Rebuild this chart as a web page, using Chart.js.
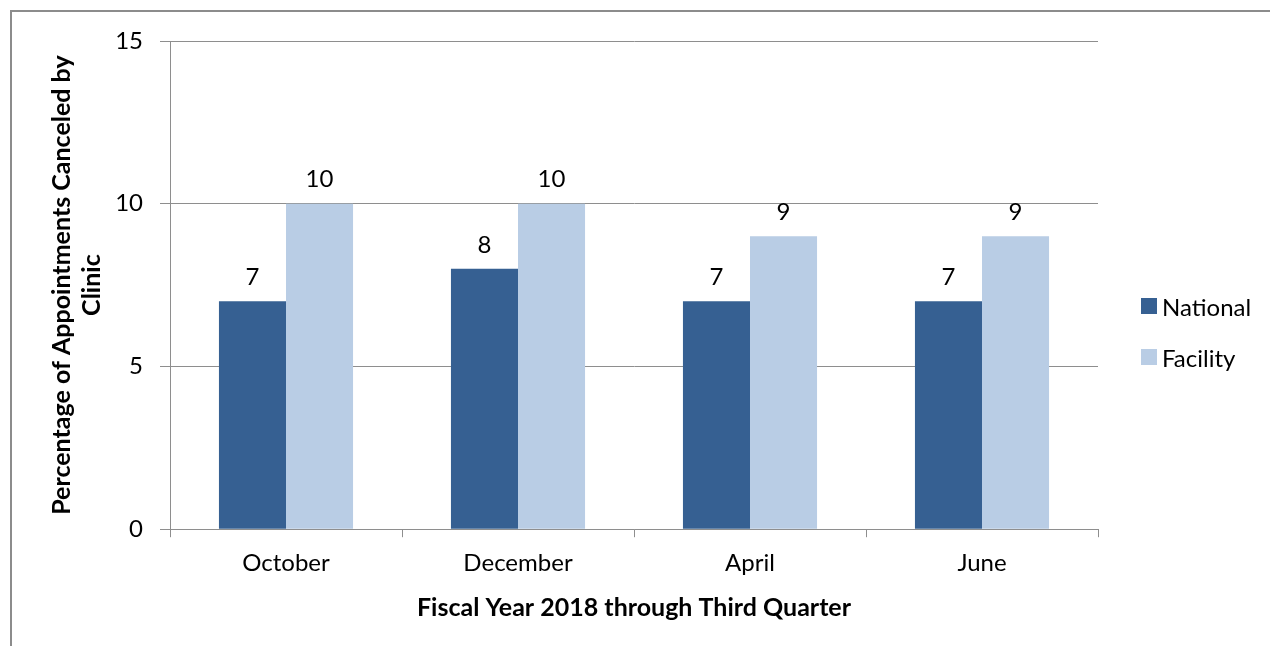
<!DOCTYPE html>
<html>
<head>
<meta charset="utf-8">
<script src="https://cdn.jsdelivr.net/npm/chart.js@4"></script>
<style>
  html, body { margin: 0; padding: 0; background: #fff; }
  #wrap { position: relative; width: 1270px; height: 646px; overflow: hidden; }
  #frame {
    position: absolute; left: 10px; top: 10px; width: 1300px; height: 700px;
    border-top: 2px solid #8c8c8c; border-left: 2px solid #8c8c8c;
    pointer-events: none;
  }
  #legend { position: absolute; left: 1141px; top: 292px; font-family: Lato, "Open Sans", sans-serif; font-size: 24px; }
  .item { display: flex; align-items: center; height: 28px; margin-bottom: 23px; }
  .box { width: 16px; height: 16px; margin-right: 5px; }
</style>
</head>
<body>
<div id="wrap">
  <canvas id="chart" width="1270" height="646"></canvas>
  <div id="frame"></div>
  <div id="legend"></div>
</div>
<script>
const months = ["October", "December", "April", "June"];
const nationalValues = [7, 8, 7, 7];
const facilityValues = [10, 10, 9, 9];
const yTicks = [0, 5, 10, 15];

const gridGray = "#8e8e8e";
const font = "Lato";

// draws the number above each bar
const valueLabels = {
  id: "valueLabels",
  afterDatasetsDraw(chart) {
    const c = chart.ctx;
    c.save();
    c.font = "24px " + font;
    c.fillStyle = "#000";
    c.textAlign = "center";
    c.textBaseline = "middle";
    chart.data.datasets.forEach((ds, i) => {
      chart.getDatasetMeta(i).data.forEach((bar, j) => {
        c.fillText(ds.data[j], bar.x, bar.y - 24);
      });
    });
    c.restore();
  },
};

const chart = new Chart(document.getElementById("chart"), {
  type: "bar",
  data: {
    labels: months,
    datasets: [
      {
        label: "National",
        data: nationalValues,
        backgroundColor: "#366092",
      },
      {
        label: "Facility",
        data: facilityValues,
        backgroundColor: "#b9cde5",
      },
    ],
  },
  options: {
    responsive: false,
    animation: false,
    devicePixelRatio: 1,
    layout: { padding: { left: 47, top: 41, right: 172, bottom: 19 } },
    datasets: { bar: { barPercentage: 1, categoryPercentage: 0.578 } },
    plugins: {
      legend: { display: false },
      tooltip: { enabled: false },
    },
    scales: {
      x: {
        offset: true,
        grid: {
          offset: true,
          drawOnChartArea: false,
          drawTicks: true,
          tickLength: 8,
          color: gridGray,
        },
        border: { color: gridGray, width: 1 },
        ticks: { color: "#000", padding: 12, font: { family: font, size: 24 } },
        title: {
          display: true,
          text: "Fiscal Year 2018 through Third Quarter",
          color: "#000",
          font: { family: font, size: 25, weight: "bold", lineHeight: 1.2 },
          padding: { top: 3, bottom: 4 },
        },
      },
      y: {
        min: 0,
        max: 15,
        afterBuildTicks: (axis) => {
          axis.ticks = yTicks.map((v) => ({ value: v }));
        },
        afterFit: (axis) => {
          axis.width = 123;
        },
        grid: { color: gridGray, tickLength: 10 },
        border: { color: gridGray, width: 1 },
        ticks: { color: "#000", padding: 17, font: { family: font, size: 24 } },
        title: {
          display: true,
          text: ["Percentage of Appointments Canceled by", "Clinic"],
          color: "#000",
          font: { family: font, size: 25, weight: "bold", lineHeight: 1.2 },
          padding: { top: 0, bottom: 8 },
        },
      },
    },
  },
  plugins: [valueLabels],
});

// legend built from the datasets
const legend = document.getElementById("legend");
chart.data.datasets.forEach((ds) => {
  const item = document.createElement("div");
  item.className = "item";
  item.innerHTML = '<span class="box" style="background:' + ds.backgroundColor + '"></span>' + ds.label;
  legend.appendChild(item);
});
</script>
</body>
</html>
